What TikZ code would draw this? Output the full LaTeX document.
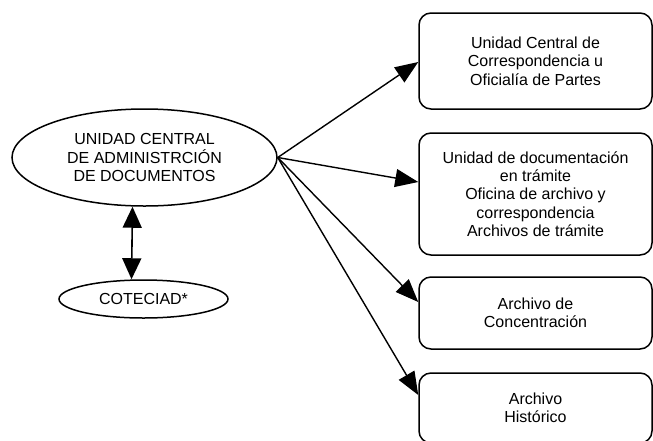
\documentclass[tikz,border=0pt]{standalone}
\usepackage{fontspec}
\setmainfont{Liberation Sans}
\usetikzlibrary{arrows.meta,shapes.geometric}
\tikzset{
  org/.style={ellipse,draw,line width=1.5pt,inner sep=0pt,align=center,font=\fontsize{16}{18.3}\selectfont},
  unit/.style={rectangle,rounded corners=12pt,draw,line width=1.5pt,minimum width=233pt,inner sep=0pt,align=center,font=\fontsize{16}{18.3}\selectfont},
  arr/.style={-{Triangle[length=23pt,width=18pt]},line width=1.4pt},
  dbl/.style={{Triangle[length=21pt,width=19pt]}-{Triangle[length=21pt,width=19pt]},line width=1.6pt}
}
\begin{document}
\begin{tikzpicture}[x=1pt,y=-1pt]
  \useasboundingbox (0,0) rectangle (653,440);
  \clip (0,0) rectangle (653,440);
  \node[org,minimum width=265pt,minimum height=97pt] (ucad) at (144.5,157.5) {UNIDAD CENTRAL\\DE ADMINISTRCIÓN\\DE DOCUMENTOS};
  \node[org,minimum width=169pt,minimum height=38pt] (cot) at (143.5,299) {COTECIAD*};
  \node[unit,minimum height=96pt] (ofp) at (535.5,61) {Unidad Central de\\Correspondencia u\\Oficialía de Partes};
  \node[unit,minimum height=122pt] (tram) at (535.5,194) {Unidad de documentación\\en trámite\\Oficina de archivo y\\correspondencia\\Archivos de trámite};
  \node[unit,minimum height=72pt] (conc) at (535.5,313) {Archivo de\\Concentración};
  \node[unit,minimum height=70pt] (hist) at (535.5,408) {Archivo\\Histórico};
  \draw[dbl] ([xshift=-12pt]ucad.south) -- ([xshift=-12pt]cot.north);
  \draw[arr] (ucad.east) -- ([yshift=-1pt]ofp.west);
  \draw[arr] (ucad.east) -- ([yshift=12pt]tram.west);
  \draw[arr] (ucad.east) -- ([yshift=11pt]conc.west);
  \draw[arr] (ucad.east) -- ([yshift=13pt]hist.west);
\end{tikzpicture}
\end{document}
